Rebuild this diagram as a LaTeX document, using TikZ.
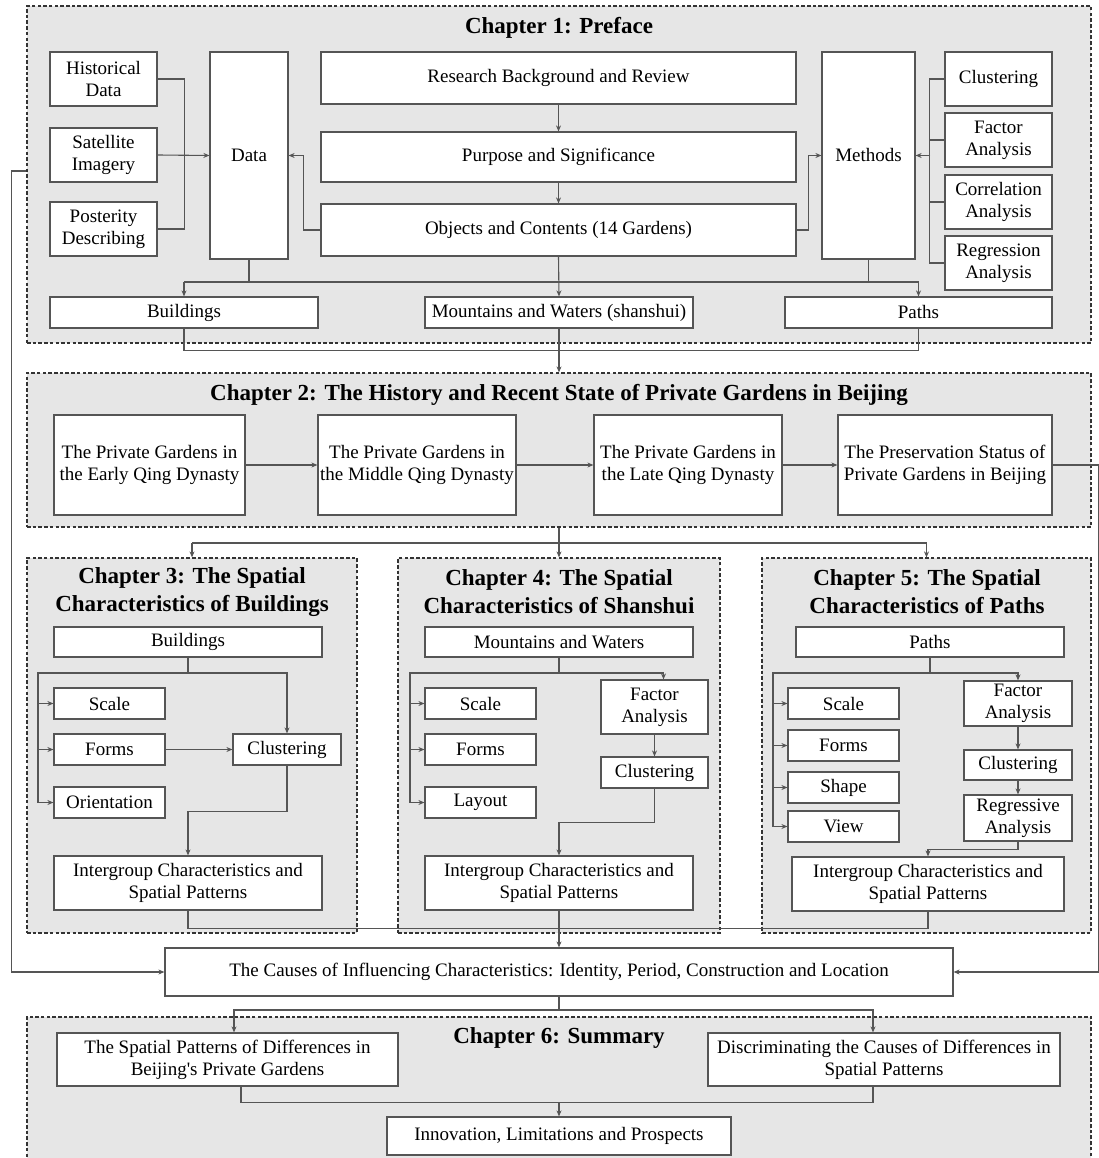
\documentclass[tikz,border=0pt]{standalone}
\usepackage{fontspec}
\setmainfont{Liberation Serif}
\usetikzlibrary{arrows.meta}
\definecolor{chfill}{HTML}{E6E6E6}
\definecolor{boxc}{HTML}{555555}
\definecolor{linec}{HTML}{555555}
\definecolor{framec}{HTML}{333333}
\newcommand\bfnt{\fontsize{19}{22}\selectfont}
\newcommand\tfnt{\fontsize{23}{28}\selectfont\bfseries}
\tikzset{
  bx/.style 2 args={draw=boxc, fill=white, line width=1.2pt, minimum width=#1,
    minimum height=#2, inner sep=0pt, align=center, font=\bfnt},
  chframe/.style 2 args={draw=framec, fill=chfill, line width=1.2pt,
    dash pattern=on 3.5pt off 2.2pt, minimum width=#1, minimum height=#2, inner sep=0pt},
  ttl/.style={align=center, font=\tfnt, inner sep=0pt},
  conn/.style={draw=linec, line width=1.1pt},
  arr/.style={conn, -{Stealth[length=6pt,width=5pt]}}
}
\begin{document}
\begin{tikzpicture}[x=1pt,y=-1pt]
\useasboundingbox (0,0) rectangle (1099,1158);

% chapter frames
\node[chframe={1064}{337}] (ch1) at (559,174.5) {};
\node[chframe={1064}{154}] (ch2) at (559,450) {};
\node[chframe={330}{375}] (ch3) at (192,745.5) {};
\node[chframe={322}{375}] (ch4) at (559,745.5) {};
\node[chframe={329}{375}] (ch5) at (926.5,745.5) {};
\node[chframe={1064}{158}] (ch6) at (559,1096) {};

% chapter titles
\node[ttl] (t1) at (559,28) {Chapter 1: Preface};
\node[ttl] (t2) at (559,395) {Chapter 2: The History and Recent State of Private Gardens in Beijing};
\node[ttl] (t3) at (192,592) {Chapter 3: The Spatial\\Characteristics of Buildings};
\node[ttl] (t4) at (559,592) {Chapter 4: The Spatial\\Characteristics of Shanshui};
\node[ttl] (t5) at (927,592) {Chapter 5: The Spatial\\Characteristics of Paths};
\node[ttl] (t6) at (559,1038) {Chapter 6: Summary};

% chapter 1
\node[bx={107}{54}] (hist) at (103.5,79) {Historical\\Data};
\node[bx={107}{54}] (sat) at (103.5,155) {Satellite\\Imagery};
\node[bx={107}{54}] (post) at (103.5,229) {Posterity\\Describing};
\node[bx={78}{207}] (data) at (249,155.5) {Data};
\node[bx={475}{52}] (rbr) at (558.5,78) {Research Background and Review};
\node[bx={475}{50}] (pur) at (558.5,157) {Purpose and Significance};
\node[bx={475}{52}] (obj) at (558.5,230) {Objects and Contents (14 Gardens)};
\node[bx={93}{207}] (meth) at (868.5,155.5) {Methods};
\node[bx={107}{54}] (clu) at (998.5,79) {Clustering};
\node[bx={107}{54}] (fac) at (998.5,140) {Factor\\Analysis};
\node[bx={107}{54}] (cor) at (998.5,202) {Correlation\\Analysis};
\node[bx={107}{54}] (reg) at (998.5,263) {Regression\\Analysis};
\node[bx={268}{31}] (bld) at (184,312.5) {Buildings};
\node[bx={268}{31}] (mw) at (559,312.5) {Mountains and Waters (shanshui)};
\node[bx={267}{31}] (pth) at (918.5,312.5) {Paths};

% chapter 2
\node[bx={191}{100}] (e1) at (149.5,465) {The Private Gardens in\\the Early Qing Dynasty};
\node[bx={198}{100}] (e2) at (417,465) {The Private Gardens in\\the Middle Qing Dynasty};
\node[bx={188}{100}] (e3) at (688,465) {The Private Gardens in\\the Late Qing Dynasty};
\node[bx={214}{100}] (e4) at (945,465) {The Preservation Status of\\Private Gardens in Beijing};

% chapter 3
\node[bx={268}{30}] (b3) at (188,642) {Buildings};
\node[bx={111}{31}] (sc3) at (109.5,703.5) {Scale};
\node[bx={111}{31}] (fo3) at (109.5,749.5) {Forms};
\node[bx={111}{31}] (or3) at (109.5,802.5) {Orientation};
\node[bx={108}{31}] (cl3) at (287,749.5) {Clustering};
\node[bx={268}{54}] (ig3) at (188,883) {Intergroup Characteristics and\\Spatial Patterns};

% chapter 4
\node[bx={268}{30}] (m4) at (559,642) {Mountains and Waters};
\node[bx={111}{31}] (sc4) at (480.5,703.5) {Scale};
\node[bx={111}{31}] (fo4) at (480.5,749.5) {Forms};
\node[bx={111}{31}] (la4) at (480.5,802.5) {Layout};
\node[bx={107}{54}] (fa4) at (654.5,707) {Factor\\Analysis};
\node[bx={107}{31}] (cl4) at (654.5,772.5) {Clustering};
\node[bx={268}{54}] (ig4) at (559,883) {Intergroup Characteristics and\\Spatial Patterns};

% chapter 5
\node[bx={268}{30}] (p5) at (930,642) {Paths};
\node[bx={111}{31}] (sc5) at (843.5,703.5) {Scale};
\node[bx={111}{31}] (fo5) at (843.5,745.5) {Forms};
\node[bx={111}{31}] (sh5) at (843.5,787.5) {Shape};
\node[bx={111}{31}] (vi5) at (843.5,826.5) {View};
\node[bx={108}{45}] (fa5) at (1018,703.5) {Factor\\Analysis};
\node[bx={108}{30}] (cl5) at (1018,765) {Clustering};
\node[bx={108}{46}] (rg5) at (1018,818) {Regressive\\Analysis};
\node[bx={272}{54}] (ig5) at (928,884) {Intergroup Characteristics and\\Spatial Patterns};

% causes
\node[bx={788}{48}] (causes) at (559,972) {The Causes of Influencing Characteristics: Identity, Period, Construction and Location};

% chapter 6
\node[bx={341}{53}] (sp6) at (227.5,1059.5) {The Spatial Patterns of Differences in\\Beijing\textquotesingle s Private Gardens};
\node[bx={352}{53}] (di6) at (884,1059.5) {Discriminating the Causes of Differences in\\Spatial Patterns};
\node[bx={344}{38}] (in6) at (559,1136) {Innovation, Limitations and Prospects};

% ---- connectors: chapter 1
\draw[conn] (hist.east) -- ++(27,0) |- (post.east);
\draw[arr] (sat.east) -- (data.west);
\draw[arr] (rbr.south) -- (pur.north);
\draw[arr] (pur.south) -- (obj.north);
\draw[arr] (obj.west) -- ++(-17,0) |- (data.east);
\draw[arr] (obj.east) -- ++(12,0) |- (meth.west);
\coordinate (mj) at (930,155.5);
\draw[conn] (clu.west) -- ++(-15,0) |- (reg.west);
\draw[conn] (fac.west) -- ++(-15,0);
\draw[conn] (cor.west) -- ++(-15,0);
\draw[arr] (mj) -- (meth.east);
\coordinate (hL) at (184,282);
\coordinate (hR) at (918.5,282);
\draw[conn] (hL) -- (hR);
\draw[conn] (data.south) -- (data.south |- hL);
\draw[conn] (meth.south) -- (meth.south |- hL);
\draw[arr] (hL) -- (bld.north);
\draw[arr] (hR) -- (pth.north);
\draw[arr] (obj.south) -- (mw.north);
\draw[conn] (bld.south) -- ++(0,22) -| (pth.south);
\draw[arr] (mw.south) -- (ch2.north);

% feedback loops into the causes box
\draw[arr] ([yshift=3.5pt]ch1.west) -- ++(-15,0) |- (causes.west);
\draw[arr] (e4.east) -- ++(46,0) |- (causes.east);

% ---- chapter 2
\draw[arr] (e1.east) -- (e2.west);
\draw[arr] (e2.east) -- (e3.west);
\draw[arr] (e3.east) -- (e4.west);
\coordinate (j2) at (559,543);
\draw[conn] (ch3.north |- j2) -- (ch5.north |- j2);
\draw[arr] (ch2.south) -- (ch4.north);
\draw[arr] (ch3.north |- j2) -- (ch3.north);
\draw[arr] (ch5.north |- j2) -- (ch5.north);

% ---- chapter 3
\coordinate (j3) at (188,673);
\coordinate (l3) at (38,673);
\draw[arr] (b3.south) -- (j3) -| (cl3.north);
\draw[arr] (j3) -- (l3) |- (or3.west);
\draw[arr] (l3 |- sc3.west) -- (sc3.west);
\draw[arr] (l3 |- fo3.west) -- (fo3.west);
\draw[arr] (fo3.east) -- (cl3.west);
\draw[arr] (cl3.south) -- ++(0,46) -| (ig3.north);

% ---- chapter 4
\coordinate (j4) at (559,673);
\coordinate (l4) at (410,673);
\draw[arr] (m4.south) -- (j4) -| ([xshift=9pt]fa4.north);
\draw[arr] (j4) -- (l4) |- (la4.west);
\draw[arr] (l4 |- sc4.west) -- (sc4.west);
\draw[arr] (l4 |- fo4.west) -- (fo4.west);
\draw[arr] (fa4.south) -- (cl4.north);
\draw[arr] (cl4.south) -- ++(0,34) -| (ig4.north);

% ---- chapter 5
\coordinate (j5) at (930,673);
\coordinate (l5) at (773,673);
\draw[arr] (p5.south) -- (j5) -| (fa5.north);
\draw[arr] (j5) -- (l5) |- (vi5.west);
\draw[arr] (l5 |- sc5.west) -- (sc5.west);
\draw[arr] (l5 |- fo5.west) -- (fo5.west);
\draw[arr] (l5 |- sh5.west) -- (sh5.west);
\draw[arr] (fa5.south) -- (cl5.north);
\draw[arr] (cl5.south) -- (rg5.north);
\draw[arr] (rg5.south) -- ++(0,8) -| (ig5.north);

% ---- collecting chapters 3-5
\draw[conn] (ig3.south) -- ++(0,18) -| (ig5.south);
\draw[arr] (ig4.south) -- (causes.north);

% ---- chapter 6
\coordinate (j6) at (559,1010);
\draw[conn] (causes.south) -- (j6);
\draw[arr] (j6) -| ([xshift=6.5pt]sp6.north);
\draw[arr] (j6) -| ([xshift=-11pt]di6.north);
\coordinate (j7) at (559,1102);
\draw[conn] ([xshift=13.5pt]sp6.south) -- ++(0,16) -| ([xshift=-11pt]di6.south);
\draw[arr] (j7) -- (in6.north);
\end{tikzpicture}
\end{document}
